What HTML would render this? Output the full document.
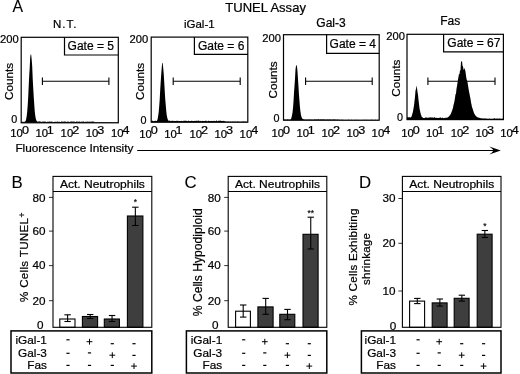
<!DOCTYPE html>
<html><head><meta charset="utf-8"><style>
html,body{margin:0;padding:0;background:#fff}
svg{display:block;will-change:transform;transform:translateZ(0)}
text{font-family:"Liberation Sans",sans-serif;fill:#000;stroke:#000;stroke-width:0.22px}
</style></head><body>
<svg width="520" height="374" viewBox="0 0 520 374">
<rect width="520" height="374" fill="#fff"/>
<text x="12.6" y="11.9" font-size="15.8" text-anchor="start" style="stroke-width:0.1px">A</text>
<text x="225.3" y="12.2" font-size="12.6" text-anchor="start" textLength="80.6" lengthAdjust="spacingAndGlyphs">TUNEL Assay</text>
<polygon fill="#000" points="21.2,122.8 21.2,121.93 21.7,121.98 22.2,121.79 22.7,121.7 23.2,121.74 23.7,121.97 24.2,121.48 24.7,121.88 25.2,121.4 25.7,120.86 26.2,118.95 26.7,115.93 27.2,111.86 27.7,105.31 28.2,97.23 28.7,86.12 29.2,75.67 29.7,67.92 30.2,57.36 30.7,54.32 31.2,54.74 31.7,59.68 32.2,66.22 32.7,78.4 33.2,87.63 33.7,96.24 34.2,103.53 34.7,110.69 35.2,115.32 35.7,118.23 36.2,119.89 36.7,120.95 37.2,121.57 37.7,121.73 38.2,121.41 38.7,121.59 39.2,121.57 39.7,121.37 40.2,121.84 40.7,121.59 41.2,121.73 41.7,121.95 42.2,121.52 42.7,121.87 43.2,121.45 43.7,121.73 44.2,121.45 44.7,121.46 45.2,121.76 45.7,121.45 46.2,121.93 46.7,121.88 47.2,121.71 47.7,121.86 48.2,121.75 48.7,121.66 49.2,121.57 49.7,121.62 50.2,121.99 50.7,121.52 51.2,121.5 51.7,121.77 52.2,121.61 52.7,121.99 53.2,121.92 53.7,122.0 54.2,121.93 54.7,121.79 55.2,121.45 55.7,121.93 56.2,121.8 56.7,121.95 57.2,121.37 57.7,121.71 58.2,121.96 58.7,121.86 59.2,121.92 59.7,121.4 60.2,121.93 60.7,122.01 61.2,121.38 61.7,121.57 62.2,121.79 62.7,121.52 63.2,121.52 63.7,121.88 64.2,121.38 64.7,121.5 65.2,121.54 65.7,121.69 66.2,122.01 66.7,121.85 67.2,121.57 67.7,121.73 68.2,121.38 68.7,121.79 69.2,121.88 69.7,121.9 70.2,121.44 70.7,121.71 71.2,121.5 71.7,121.59 72.2,121.51 72.7,121.71 73.2,121.51 73.7,121.5 74.2,121.77 74.7,121.41 75.2,121.92 75.7,121.93 76.2,121.5 76.7,121.48 77.2,121.6 77.7,121.67 78.2,122.02 78.7,121.6 79.2,121.41 79.7,121.45 80.2,121.89 80.7,121.84 81.2,121.64 81.7,121.75 82.2,121.43 82.7,121.73 83.2,121.43 83.7,121.42 84.2,121.68 84.7,122.02 85.2,121.91 85.7,121.5 86.2,121.72 86.7,121.66 87.2,121.69 87.7,121.51 88.2,121.66 88.7,121.85 89.2,121.69 89.7,121.53 90.2,121.74 90.7,121.7 91.2,121.57 91.7,121.68 92.2,121.41 92.7,121.45 93.2,121.86 93.7,121.41 94.2,121.94 94.7,121.74 95.2,122.38 95.7,122.25 96.2,122.18 96.7,122.24 97.2,122.41 97.7,122.16 98.2,122.16 98.7,122.3 99.2,122.2 99.7,122.32 100.2,122.35 100.7,122.35 101.2,122.44 101.7,122.32 102.2,122.35 102.7,122.3 103.2,122.15 103.7,122.16 104.2,122.37 104.7,122.22 105.2,122.41 105.7,122.18 106.2,122.37 106.7,122.17 107.2,122.24 107.7,122.43 108.2,122.32 108.7,122.17 109.2,122.21 109.7,122.19 110.2,122.19 110.7,122.35 111.2,122.17 111.7,122.41 112.2,122.38 112.7,122.4 113.2,122.39 113.7,122.36 114.2,122.36 114.7,122.4 115.2,122.44 115.7,122.45 116.2,122.28 116.7,122.31 117.2,122.42 117.7,122.32 118.2,122.2 118.3,122.8"/>
<rect x="21.2" y="37.3" width="97.1" height="85.5" fill="none" stroke="#000" stroke-width="1.2"/>
<path d="M64.5 37.3 V55 H118.3" fill="none" stroke="#000" stroke-width="1.2"/>
<text x="52.9" y="28.4" font-size="11.5" text-anchor="start" style="letter-spacing:1px">N.T.</text>
<text x="67.6" y="49.5" font-size="12" text-anchor="start" >Gate = 5</text>
<text x="18.6" y="42.8" font-size="11.2" text-anchor="end" >200</text>
<text x="17.2" y="123.3" font-size="10.8" text-anchor="end" >0</text>
<text x="12.7" y="81.4" font-size="11.7" text-anchor="middle" transform="rotate(-90 12.7 81.4)">Counts</text>
<line x1="42.4" y1="81.2" x2="108.9" y2="81.2" stroke="#000" stroke-width="1.1"/>
<line x1="42.4" y1="77.5" x2="42.4" y2="84.9" stroke="#000" stroke-width="1.1"/>
<line x1="108.9" y1="77.5" x2="108.9" y2="84.9" stroke="#000" stroke-width="1.1"/>
<text x="10.3" y="137.2" font-size="11.3" text-anchor="start" >10</text>
<text transform="translate(21.9 133.79999999999998) scale(1.18 1)" font-size="10.7">0</text>
<text x="35.45" y="137.2" font-size="11.3" text-anchor="start" >10</text>
<text transform="translate(46.75 133.79999999999998) scale(1.18 1)" font-size="10.7">1</text>
<text x="60.599999999999994" y="137.2" font-size="11.3" text-anchor="start" >10</text>
<text transform="translate(72.19999999999999 133.79999999999998) scale(1.18 1)" font-size="10.7">2</text>
<text x="85.74999999999999" y="137.2" font-size="11.3" text-anchor="start" >10</text>
<text transform="translate(97.34999999999998 133.79999999999998) scale(1.18 1)" font-size="10.7">3</text>
<text x="110.89999999999999" y="137.2" font-size="11.3" text-anchor="start" >10</text>
<text transform="translate(122.49999999999999 133.79999999999998) scale(1.18 1)" font-size="10.7">4</text>
<polygon fill="#000" points="151.2,122.2 151.2,120.89 151.7,120.52 152.2,120.64 152.7,120.79 153.2,121.02 153.7,121.19 154.2,120.71 154.7,121.16 155.2,120.63 155.7,120.77 156.2,121.1 156.7,120.93 157.2,120.36 157.7,118.71 158.2,115.68 158.7,112.02 159.2,106.3 159.7,99.62 160.2,90.12 160.7,81.96 161.2,74.55 161.7,68.03 162.2,62.86 162.7,63.2 163.2,67.99 163.7,73.56 164.2,81.49 164.7,90.4 165.2,98.75 165.7,104.43 166.2,110.6 166.7,115.09 167.2,117.53 167.7,119.31 168.2,120.39 168.7,120.64 169.2,120.65 169.7,120.59 170.2,120.75 170.7,121.27 171.2,121.01 171.7,120.64 172.2,120.8 172.7,120.76 173.2,121.29 173.7,120.71 174.2,120.87 174.7,121.24 175.2,121.09 175.7,121.08 176.2,121.13 176.7,120.53 177.2,120.99 177.7,120.76 178.2,120.81 178.7,121.23 179.2,121.09 179.7,121.05 180.2,121.28 180.7,121.08 181.2,120.75 181.7,121.06 182.2,120.93 182.7,121.2 183.2,121.13 183.7,120.56 184.2,120.93 184.7,120.53 185.2,121.08 185.7,120.55 186.2,120.84 186.7,120.88 187.2,121.19 187.7,120.89 188.2,120.74 188.7,120.59 189.2,121.27 189.7,120.91 190.2,121.05 190.7,121.02 191.2,120.63 191.7,120.7 192.2,121.2 192.7,120.73 193.2,121.06 193.7,120.98 194.2,120.83 194.7,120.96 195.2,121.25 195.7,120.64 196.2,120.56 196.7,121.08 197.2,121.14 197.7,120.54 198.2,120.66 198.7,120.58 199.2,120.86 199.7,121.25 200.2,120.94 200.7,120.79 201.2,121.25 201.7,121.19 202.2,121.02 202.7,120.71 203.2,121.09 203.7,121.06 204.2,120.98 204.7,121.16 205.2,120.58 205.7,121.12 206.2,120.51 206.7,121.18 207.2,121.22 207.7,121.22 208.2,121.09 208.7,120.6 209.2,120.97 209.7,120.88 210.2,121.03 210.7,121.07 211.2,121.19 211.7,120.8 212.2,121.12 212.7,121.1 213.2,120.94 213.7,120.63 214.2,121.27 214.7,120.74 215.2,120.92 215.7,121.29 216.2,120.57 216.7,120.62 217.2,121.1 217.7,121.17 218.2,120.76 218.7,120.73 219.2,120.69 219.7,120.86 220.2,120.68 220.7,120.57 221.2,121.05 221.7,121.09 222.2,120.75 222.7,121.24 223.2,120.84 223.7,121.12 224.2,121.28 224.7,120.93 225.2,121.55 225.7,121.61 226.2,121.69 226.7,121.53 227.2,121.77 227.7,121.54 228.2,121.69 228.7,121.45 229.2,121.77 229.7,121.63 230.2,121.71 230.7,121.51 231.2,121.71 231.7,121.67 232.2,121.7 232.7,121.51 233.2,121.44 233.7,121.71 234.2,121.63 234.7,121.44 235.2,121.64 235.7,121.43 236.2,121.76 236.7,121.64 237.2,121.46 237.7,121.42 238.2,121.66 238.7,121.44 239.2,121.77 239.7,121.64 240.2,121.66 240.7,121.78 241.2,121.65 241.7,121.74 242.2,121.71 242.7,121.48 243.2,121.62 243.7,121.61 244.2,121.45 244.7,121.65 245.2,121.77 245.7,121.49 246.2,121.77 246.7,121.76 247.2,121.69 247.7,121.46 247.8,122.2"/>
<rect x="151.2" y="37.1" width="96.60000000000002" height="85.1" fill="none" stroke="#000" stroke-width="1.2"/>
<path d="M194.4 37.1 V54.3 H247.8" fill="none" stroke="#000" stroke-width="1.2"/>
<text x="199.3" y="27.6" font-size="11.5" text-anchor="middle" >iGal-1</text>
<text x="198" y="49.5" font-size="12" text-anchor="start" >Gate = 6</text>
<text x="148.2" y="42.7" font-size="11.2" text-anchor="end" >200</text>
<text x="146.4" y="123.5" font-size="10.8" text-anchor="end" >0</text>
<text x="143.6" y="81.5" font-size="11.7" text-anchor="middle" transform="rotate(-90 143.6 81.5)">Counts</text>
<line x1="173.2" y1="81.2" x2="240.2" y2="81.2" stroke="#000" stroke-width="1.1"/>
<line x1="173.2" y1="77.5" x2="173.2" y2="84.9" stroke="#000" stroke-width="1.1"/>
<line x1="240.2" y1="77.5" x2="240.2" y2="84.9" stroke="#000" stroke-width="1.1"/>
<text x="139.2" y="137.6" font-size="11.3" text-anchor="start" >10</text>
<text transform="translate(150.79999999999998 134.2) scale(1.18 1)" font-size="10.7">0</text>
<text x="164.29999999999998" y="137.6" font-size="11.3" text-anchor="start" >10</text>
<text transform="translate(175.6 134.2) scale(1.18 1)" font-size="10.7">1</text>
<text x="189.39999999999998" y="137.6" font-size="11.3" text-anchor="start" >10</text>
<text transform="translate(200.99999999999997 134.2) scale(1.18 1)" font-size="10.7">2</text>
<text x="214.5" y="137.6" font-size="11.3" text-anchor="start" >10</text>
<text transform="translate(226.1 134.2) scale(1.18 1)" font-size="10.7">3</text>
<text x="239.6" y="137.6" font-size="11.3" text-anchor="start" >10</text>
<text transform="translate(251.2 134.2) scale(1.18 1)" font-size="10.7">4</text>
<polygon fill="#000" points="283.5,120.2 283.5,119.6 284.0,119.45 284.5,119.41 285.0,119.59 285.5,119.39 286.0,119.44 286.5,119.7 287.0,119.51 287.5,119.31 288.0,119.6 288.5,119.5 289.0,119.63 289.5,119.4 290.0,119.39 290.5,119.54 291.0,118.88 291.5,117.55 292.0,115.62 292.5,112.4 293.0,107.99 293.5,101.51 294.0,92.81 294.5,85.9 295.0,78.44 295.5,69.38 296.0,65.89 296.5,64.81 297.0,66.67 297.5,71.58 298.0,79.32 298.5,87.06 299.0,95.35 299.5,101.13 300.0,107.69 300.5,112.1 301.0,114.93 301.5,116.93 302.0,118.1 302.5,118.79 303.0,119.2 303.5,119.37 304.0,119.33 304.5,119.59 305.0,119.63 305.5,119.47 306.0,119.55 306.5,119.52 307.0,119.38 307.5,119.67 308.0,119.45 308.5,119.56 309.0,119.62 309.5,119.46 310.0,119.62 310.5,119.57 311.0,119.63 311.5,119.62 312.0,119.48 312.5,119.67 313.0,119.48 313.5,119.67 314.0,119.42 314.5,119.59 315.0,119.31 315.5,119.47 316.0,119.54 316.5,119.29 317.0,119.63 317.5,119.62 318.0,119.33 318.5,119.37 319.0,119.34 319.5,119.64 320.0,119.48 320.5,119.33 321.0,119.45 321.5,119.5 322.0,119.59 322.5,119.32 323.0,119.5 323.5,119.3 324.0,119.66 324.5,119.3 325.0,119.69 325.5,119.55 326.0,119.45 326.5,119.64 327.0,119.62 327.5,119.35 328.0,119.63 328.5,119.54 329.0,119.55 329.5,119.61 330.0,119.33 330.5,119.47 331.0,119.69 331.5,119.66 332.0,119.48 332.5,119.58 333.0,119.47 333.5,119.43 334.0,119.53 334.5,119.45 335.0,119.61 335.5,119.38 336.0,119.63 336.5,119.67 337.0,119.53 337.5,119.52 338.0,119.69 338.5,119.68 339.0,119.38 339.5,119.69 340.0,119.92 340.5,119.97 341.0,119.81 341.5,119.84 342.0,119.81 342.5,119.82 343.0,119.96 343.5,119.82 344.0,119.93 344.5,119.96 345.0,119.94 345.5,119.96 346.0,119.82 346.5,119.94 347.0,119.93 347.5,119.96 348.0,119.82 348.5,119.83 349.0,119.85 349.5,119.89 350.0,119.93 350.5,119.89 351.0,119.83 351.5,119.81 352.0,119.92 352.5,119.94 353.0,119.89 353.5,119.85 354.0,119.96 354.5,119.98 355.0,119.94 355.5,119.81 356.0,119.87 356.5,119.99 357.0,119.96 357.5,119.91 358.0,119.83 358.5,119.95 359.0,119.99 359.5,119.93 360.0,119.93 360.5,119.88 361.0,119.95 361.5,119.9 362.0,119.82 362.5,119.96 363.0,119.88 363.5,119.85 364.0,119.94 364.5,119.87 365.0,119.93 365.5,119.91 366.0,119.86 366.5,119.83 367.0,119.89 367.5,119.95 368.0,119.85 368.5,119.89 369.0,119.96 369.5,119.88 370.0,119.87 370.5,119.96 371.0,119.94 371.5,119.83 372.0,119.86 372.5,119.84 373.0,119.91 373.5,119.91 374.0,119.97 374.5,119.98 375.0,119.86 375.5,119.84 376.0,119.94 376.5,119.91 377.0,119.9 377.5,119.87 378.0,119.95 378.5,119.99 379.0,119.95 379.2,120.2"/>
<rect x="283.5" y="34.7" width="95.69999999999999" height="85.5" fill="none" stroke="#000" stroke-width="1.2"/>
<path d="M326.6 34.7 V53.3 H379.2" fill="none" stroke="#000" stroke-width="1.2"/>
<text x="331" y="26.5" font-size="12" text-anchor="middle" >Gal-3</text>
<text x="329.6" y="47.7" font-size="12" text-anchor="start" >Gate = 4</text>
<text x="281" y="41.5" font-size="11.2" text-anchor="end" >200</text>
<text x="279.6" y="121.6" font-size="10.8" text-anchor="end" >0</text>
<text x="276.7" y="80" font-size="11.7" text-anchor="middle" transform="rotate(-90 276.7 80)">Counts</text>
<line x1="305.6" y1="81.3" x2="372.2" y2="81.3" stroke="#000" stroke-width="1.1"/>
<line x1="305.6" y1="77.6" x2="305.6" y2="85.0" stroke="#000" stroke-width="1.1"/>
<line x1="372.2" y1="77.6" x2="372.2" y2="85.0" stroke="#000" stroke-width="1.1"/>
<text x="271.4" y="136.9" font-size="11.3" text-anchor="start" >10</text>
<text transform="translate(283.0 133.5) scale(1.18 1)" font-size="10.7">0</text>
<text x="296.45" y="136.9" font-size="11.3" text-anchor="start" >10</text>
<text transform="translate(307.75 133.5) scale(1.18 1)" font-size="10.7">1</text>
<text x="321.5" y="136.9" font-size="11.3" text-anchor="start" >10</text>
<text transform="translate(333.1 133.5) scale(1.18 1)" font-size="10.7">2</text>
<text x="346.54999999999995" y="136.9" font-size="11.3" text-anchor="start" >10</text>
<text transform="translate(358.15 133.5) scale(1.18 1)" font-size="10.7">3</text>
<text x="371.59999999999997" y="136.9" font-size="11.3" text-anchor="start" >10</text>
<text transform="translate(383.2 133.5) scale(1.18 1)" font-size="10.7">4</text>
<polygon fill="#000" points="407,119.6 407,117.81 407.5,117.11 408.0,117.03 408.5,117.17 409.0,117.83 409.5,117.11 410.0,117.09 410.5,117.85 411.0,117.21 411.5,116.47 412.0,115.05 412.5,113.29 413.0,111.54 413.5,108.3 414.0,105.44 414.5,101.12 415.0,96.76 415.5,90.56 416.0,89.13 416.5,85.46 417.0,88.04 417.5,92.07 418.0,94.81 418.5,99.87 419.0,104.08 419.5,108.31 420.0,110.81 420.5,113.0 421.0,114.85 421.5,116.14 422.0,116.92 422.5,117.3 423.0,117.94 423.5,118.0 424.0,118.05 424.5,117.97 425.0,118.01 425.5,117.57 426.0,117.03 426.5,118.08 427.0,117.32 427.5,118.07 428.0,117.72 428.5,117.44 429.0,117.71 429.5,117.51 430.0,117.33 430.5,117.18 431.0,117.82 431.5,117.26 432.0,117.69 432.5,117.39 433.0,117.27 433.5,118.15 434.0,117.07 434.5,117.55 435.0,117.21 435.5,117.95 436.0,118.05 436.5,117.87 437.0,117.7 437.5,117.93 438.0,117.94 438.5,118.04 439.0,117.64 439.5,117.78 440.0,117.64 440.5,117.2 441.0,117.75 441.5,118.2 442.0,117.84 442.5,117.41 443.0,118.13 443.5,118.03 444.0,118.19 444.5,118.08 445.0,117.78 445.5,118.0 446.0,117.4 446.5,117.8 447.0,117.64 447.5,117.43 448.0,117.16 448.5,116.82 449.0,116.47 449.5,115.83 450.0,115.09 450.5,114.59 451.0,113.53 451.5,112.06 452.0,111.06 452.5,109.34 453.0,107.64 453.5,105.07 454.0,103.24 454.5,101.09 455.0,97.81 455.5,94.31 456.0,93.77 456.5,88.86 457.0,85.95 457.5,82.71 458.0,79.47 458.5,76.66 459.0,73.9 459.5,74.17 460.0,70.21 460.5,70.62 461.0,61.64 461.5,61.54 462.0,61.09 462.5,65.66 463.0,66.43 463.5,69.25 464.0,70.02 464.5,67.82 465.0,69.4 465.5,71.65 466.0,75.59 466.5,78.99 467.0,80.16 467.5,82.18 468.0,85.27 468.5,88.5 469.0,91.39 469.5,93.84 470.0,96.41 470.5,98.66 471.0,102.31 471.5,104.39 472.0,107.28 472.5,108.26 473.0,110.0 473.5,111.47 474.0,113.02 474.5,114.1 475.0,114.82 475.5,115.62 476.0,116.21 476.5,116.6 477.0,116.98 477.5,117.3 478.0,117.52 478.5,117.69 479.0,117.48 479.5,117.98 480.0,118.08 480.5,118.17 481.0,118.25 481.5,118.32 482.0,118.37 482.5,118.43 483.0,118.48 483.5,118.5 484.0,118.32 484.5,118.62 485.0,118.4 485.5,118.51 486.0,118.45 486.5,118.55 487.0,118.75 487.5,118.76 488.0,118.47 488.5,118.77 489.0,118.82 489.5,118.39 490.0,118.41 490.5,118.77 491.0,118.81 491.5,118.81 492.0,118.8 492.5,118.83 493.0,118.5 493.5,118.75 494.0,118.3 494.5,118.36 495.0,118.31 495.5,118.82 496.0,118.79 496.5,118.56 497.0,118.47 497.5,118.53 498.0,118.53 498.5,118.78 499.0,118.47 499.5,118.39 500.0,118.35 500.5,118.79 501.0,118.68 501.5,118.63 502.0,118.41 502.5,118.67 503.0,118.33 503.4,119.6"/>
<rect x="407" y="34.3" width="96.39999999999998" height="85.3" fill="none" stroke="#000" stroke-width="1.2"/>
<path d="M443.6 34.3 V51.8 H503.4" fill="none" stroke="#000" stroke-width="1.2"/>
<text x="450.3" y="25" font-size="12" text-anchor="middle" >Fas</text>
<text x="447.3" y="47.2" font-size="12" text-anchor="start" >Gate = 67</text>
<text x="405" y="39.7" font-size="11.2" text-anchor="end" >200</text>
<text x="403" y="120.5" font-size="10.8" text-anchor="end" >0</text>
<text x="400" y="78.2" font-size="11.7" text-anchor="middle" transform="rotate(-90 400 78.2)">Counts</text>
<line x1="427.9" y1="81.2" x2="495" y2="81.2" stroke="#000" stroke-width="1.1"/>
<line x1="427.9" y1="77.5" x2="427.9" y2="84.9" stroke="#000" stroke-width="1.1"/>
<line x1="495" y1="77.5" x2="495" y2="84.9" stroke="#000" stroke-width="1.1"/>
<text x="401.2" y="137.2" font-size="11.3" text-anchor="start" >10</text>
<text transform="translate(412.8 133.79999999999998) scale(1.18 1)" font-size="10.7">0</text>
<text x="425.95" y="137.2" font-size="11.3" text-anchor="start" >10</text>
<text transform="translate(437.25 133.79999999999998) scale(1.18 1)" font-size="10.7">1</text>
<text x="450.7" y="137.2" font-size="11.3" text-anchor="start" >10</text>
<text transform="translate(462.3 133.79999999999998) scale(1.18 1)" font-size="10.7">2</text>
<text x="475.45" y="137.2" font-size="11.3" text-anchor="start" >10</text>
<text transform="translate(487.05 133.79999999999998) scale(1.18 1)" font-size="10.7">3</text>
<text x="500.2" y="137.2" font-size="11.3" text-anchor="start" >10</text>
<text transform="translate(511.8 133.79999999999998) scale(1.18 1)" font-size="10.7">4</text>
<text x="15.4" y="152.3" font-size="11.0" text-anchor="start" textLength="118" lengthAdjust="spacingAndGlyphs">Fluorescence Intensity</text>
<line x1="137.2" y1="150.5" x2="495" y2="150.5" stroke="#000" stroke-width="1.05"/>
<path d="M500.8 150.5 L489.3 146.4 Q492.6 148.6 493.4 150.5 Q492.6 152.4 489.3 154.6 Z" fill="#000"/>
<text x="11.4" y="187.7" font-size="16.8" text-anchor="start" style="stroke-width:0.1px">B</text>
<rect x="59.8" y="319" width="15.200000000000003" height="8.300000000000011" fill="#fff" stroke="#000" stroke-width="1.1"/>
<line x1="67.6" y1="314.8" x2="67.6" y2="321.5" stroke="#000" stroke-width="1.1"/>
<line x1="64.39999999999999" y1="314.8" x2="70.8" y2="314.8" stroke="#000" stroke-width="1.1"/>
<line x1="64.39999999999999" y1="321.5" x2="70.8" y2="321.5" stroke="#000" stroke-width="1.1"/>
<rect x="82.4" y="316.5" width="15.199999999999989" height="10.800000000000011" fill="#3e3e3e" stroke="#000" stroke-width="1.1"/>
<line x1="90.2" y1="314.5" x2="90.2" y2="318.5" stroke="#000" stroke-width="1.1"/>
<line x1="87.0" y1="314.5" x2="93.4" y2="314.5" stroke="#000" stroke-width="1.1"/>
<line x1="87.0" y1="318.5" x2="93.4" y2="318.5" stroke="#000" stroke-width="1.1"/>
<rect x="104.3" y="319" width="15.099999999999994" height="8.300000000000011" fill="#3e3e3e" stroke="#000" stroke-width="1.1"/>
<line x1="112.05" y1="315.5" x2="112.05" y2="321.5" stroke="#000" stroke-width="1.1"/>
<line x1="108.85" y1="315.5" x2="115.25" y2="315.5" stroke="#000" stroke-width="1.1"/>
<line x1="108.85" y1="321.5" x2="115.25" y2="321.5" stroke="#000" stroke-width="1.1"/>
<rect x="127.4" y="216" width="15.5" height="111.30000000000001" fill="#3e3e3e" stroke="#000" stroke-width="1.1"/>
<line x1="135.35000000000002" y1="207.2" x2="135.35000000000002" y2="225.5" stroke="#000" stroke-width="1.1"/>
<line x1="132.15000000000003" y1="207.2" x2="138.55" y2="207.2" stroke="#000" stroke-width="1.1"/>
<line x1="132.15000000000003" y1="225.5" x2="138.55" y2="225.5" stroke="#000" stroke-width="1.1"/>
<text x="135.35000000000002" y="205.4" font-size="8.5" text-anchor="middle" style="stroke-width:0.15px">*</text>
<rect x="53" y="176.4" width="98.80000000000001" height="150.9" fill="none" stroke="#000" stroke-width="1.1"/>
<line x1="53" y1="191.5" x2="151.8" y2="191.5" stroke="#000" stroke-width="1.1"/>
<text x="102.4" y="187.8" font-size="11.4" text-anchor="middle" textLength="85.0" lengthAdjust="spacingAndGlyphs">Act. Neutrophils</text>
<text x="45.5" y="201.5" font-size="11.7" text-anchor="end" >80</text>
<line x1="49" y1="197.4" x2="53" y2="197.4" stroke="#000" stroke-width="0.8"/>
<text x="45.5" y="235.0" font-size="11.7" text-anchor="end" >60</text>
<line x1="49" y1="231.1" x2="53" y2="231.1" stroke="#000" stroke-width="0.8"/>
<text x="45.5" y="269.09999999999997" font-size="11.7" text-anchor="end" >40</text>
<line x1="49" y1="265.6" x2="53" y2="265.6" stroke="#000" stroke-width="0.8"/>
<text x="45.5" y="304.7" font-size="11.7" text-anchor="end" >20</text>
<line x1="49" y1="300.7" x2="53" y2="300.7" stroke="#000" stroke-width="0.8"/>
<text x="43.5" y="329.0" font-size="11.7" text-anchor="end" >0</text>
<text x="27.8" y="260" font-size="11.6" text-anchor="middle" transform="rotate(-90 27.8 260)" textLength="84" lengthAdjust="spacing">% Cells TUNEL</text>
<text x="24.6" y="217.4" font-size="8.5" text-anchor="start" transform="rotate(-90 24.6 217.4)">+</text>
<rect x="11.0" y="330.9" width="140.8" height="42.10000000000002" fill="none" stroke="#000" stroke-width="1.5"/>
<text x="46.9" y="344.3" font-size="11.8" text-anchor="end" >iGal-1</text>
<line x1="66.4" y1="339.8" x2="69.6" y2="339.8" stroke="#000" stroke-width="1.2"/>
<line x1="86.6" y1="341.7" x2="92.4" y2="341.7" stroke="#000" stroke-width="1.0"/>
<line x1="89.5" y1="338.8" x2="89.5" y2="344.59999999999997" stroke="#000" stroke-width="1.0"/>
<line x1="110.7" y1="343.7" x2="113.89999999999999" y2="343.7" stroke="#000" stroke-width="1.2"/>
<line x1="132.4" y1="343.7" x2="135.6" y2="343.7" stroke="#000" stroke-width="1.2"/>
<text x="46.9" y="357.2" font-size="11.8" text-anchor="end" >Gal-3</text>
<line x1="66.4" y1="353.3" x2="69.6" y2="353.3" stroke="#000" stroke-width="1.2"/>
<line x1="87.9" y1="352.9" x2="91.1" y2="352.9" stroke="#000" stroke-width="1.2"/>
<line x1="109.39999999999999" y1="355.2" x2="115.2" y2="355.2" stroke="#000" stroke-width="1.0"/>
<line x1="112.3" y1="352.3" x2="112.3" y2="358.09999999999997" stroke="#000" stroke-width="1.0"/>
<line x1="132.4" y1="355.4" x2="135.6" y2="355.4" stroke="#000" stroke-width="1.2"/>
<text x="46.9" y="368.9" font-size="11.8" text-anchor="end" >Fas</text>
<line x1="66.4" y1="365.4" x2="69.6" y2="365.4" stroke="#000" stroke-width="1.2"/>
<line x1="87.9" y1="365.4" x2="91.1" y2="365.4" stroke="#000" stroke-width="1.2"/>
<line x1="110.7" y1="365.4" x2="113.89999999999999" y2="365.4" stroke="#000" stroke-width="1.2"/>
<line x1="131.1" y1="366.1" x2="136.9" y2="366.1" stroke="#000" stroke-width="1.0"/>
<line x1="134" y1="363.20000000000005" x2="134" y2="369.0" stroke="#000" stroke-width="1.0"/>
<text x="184.5" y="187.7" font-size="16.8" text-anchor="start" style="stroke-width:0.1px">C</text>
<rect x="235.6" y="311.2" width="14.800000000000011" height="16.100000000000023" fill="#fff" stroke="#000" stroke-width="1.1"/>
<line x1="243.2" y1="305" x2="243.2" y2="317.1" stroke="#000" stroke-width="1.1"/>
<line x1="240.0" y1="305" x2="246.39999999999998" y2="305" stroke="#000" stroke-width="1.1"/>
<line x1="240.0" y1="317.1" x2="246.39999999999998" y2="317.1" stroke="#000" stroke-width="1.1"/>
<rect x="257.9" y="306.9" width="15.200000000000045" height="20.400000000000034" fill="#3e3e3e" stroke="#000" stroke-width="1.1"/>
<line x1="265.7" y1="298.4" x2="265.7" y2="314.3" stroke="#000" stroke-width="1.1"/>
<line x1="262.5" y1="298.4" x2="268.9" y2="298.4" stroke="#000" stroke-width="1.1"/>
<line x1="262.5" y1="314.3" x2="268.9" y2="314.3" stroke="#000" stroke-width="1.1"/>
<rect x="279.8" y="314.3" width="15.0" height="13.0" fill="#3e3e3e" stroke="#000" stroke-width="1.1"/>
<line x1="287.5" y1="309.4" x2="287.5" y2="319.7" stroke="#000" stroke-width="1.1"/>
<line x1="284.3" y1="309.4" x2="290.7" y2="309.4" stroke="#000" stroke-width="1.1"/>
<line x1="284.3" y1="319.7" x2="290.7" y2="319.7" stroke="#000" stroke-width="1.1"/>
<rect x="303" y="234.3" width="15.100000000000023" height="93.0" fill="#3e3e3e" stroke="#000" stroke-width="1.1"/>
<line x1="310.75" y1="217.2" x2="310.75" y2="249" stroke="#000" stroke-width="1.1"/>
<line x1="307.55" y1="217.2" x2="313.95" y2="217.2" stroke="#000" stroke-width="1.1"/>
<line x1="307.55" y1="249" x2="313.95" y2="249" stroke="#000" stroke-width="1.1"/>
<text x="310.75" y="215.5" font-size="8.5" text-anchor="middle" style="stroke-width:0.15px">**</text>
<rect x="228.2" y="176.4" width="98.60000000000002" height="150.9" fill="none" stroke="#000" stroke-width="1.1"/>
<line x1="228.2" y1="191.5" x2="326.8" y2="191.5" stroke="#000" stroke-width="1.1"/>
<text x="277.5" y="187.8" font-size="11.4" text-anchor="middle" textLength="85.0" lengthAdjust="spacingAndGlyphs">Act. Neutrophils</text>
<text x="220.7" y="201.5" font-size="11.7" text-anchor="end" >80</text>
<line x1="224.2" y1="197.4" x2="228.2" y2="197.4" stroke="#000" stroke-width="0.8"/>
<text x="220.7" y="235.0" font-size="11.7" text-anchor="end" >60</text>
<line x1="224.2" y1="231.1" x2="228.2" y2="231.1" stroke="#000" stroke-width="0.8"/>
<text x="220.7" y="269.09999999999997" font-size="11.7" text-anchor="end" >40</text>
<line x1="224.2" y1="265.6" x2="228.2" y2="265.6" stroke="#000" stroke-width="0.8"/>
<text x="220.7" y="304.7" font-size="11.7" text-anchor="end" >20</text>
<line x1="224.2" y1="300.7" x2="228.2" y2="300.7" stroke="#000" stroke-width="0.8"/>
<text x="218.39999999999998" y="328.9" font-size="11.7" text-anchor="end" >0</text>
<text x="201.8" y="262.3" font-size="12.15" text-anchor="middle" transform="rotate(-90 201.8 262.3)">% Cells Hypodiploid</text>
<rect x="186.4" y="330.9" width="140.4" height="42.10000000000002" fill="none" stroke="#000" stroke-width="1.5"/>
<text x="222.2" y="344.3" font-size="11.8" text-anchor="end" >iGal-1</text>
<line x1="242.1" y1="339.8" x2="245.29999999999998" y2="339.8" stroke="#000" stroke-width="1.2"/>
<line x1="261.90000000000003" y1="341.7" x2="267.7" y2="341.7" stroke="#000" stroke-width="1.0"/>
<line x1="264.8" y1="338.8" x2="264.8" y2="344.59999999999997" stroke="#000" stroke-width="1.0"/>
<line x1="285.79999999999995" y1="343.7" x2="289.0" y2="343.7" stroke="#000" stroke-width="1.2"/>
<line x1="307.7" y1="343.7" x2="310.90000000000003" y2="343.7" stroke="#000" stroke-width="1.2"/>
<text x="222.2" y="357.2" font-size="11.8" text-anchor="end" >Gal-3</text>
<line x1="242.1" y1="353.3" x2="245.29999999999998" y2="353.3" stroke="#000" stroke-width="1.2"/>
<line x1="263.2" y1="352.9" x2="266.40000000000003" y2="352.9" stroke="#000" stroke-width="1.2"/>
<line x1="284.5" y1="355.2" x2="290.29999999999995" y2="355.2" stroke="#000" stroke-width="1.0"/>
<line x1="287.4" y1="352.3" x2="287.4" y2="358.09999999999997" stroke="#000" stroke-width="1.0"/>
<line x1="307.7" y1="355.4" x2="310.90000000000003" y2="355.4" stroke="#000" stroke-width="1.2"/>
<text x="222.2" y="368.9" font-size="11.8" text-anchor="end" >Fas</text>
<line x1="242.1" y1="365.4" x2="245.29999999999998" y2="365.4" stroke="#000" stroke-width="1.2"/>
<line x1="263.2" y1="365.4" x2="266.40000000000003" y2="365.4" stroke="#000" stroke-width="1.2"/>
<line x1="285.79999999999995" y1="365.4" x2="289.0" y2="365.4" stroke="#000" stroke-width="1.2"/>
<line x1="306.40000000000003" y1="366.1" x2="312.2" y2="366.1" stroke="#000" stroke-width="1.0"/>
<line x1="309.3" y1="363.20000000000005" x2="309.3" y2="369.0" stroke="#000" stroke-width="1.0"/>
<text x="359.0" y="187.7" font-size="16.8" text-anchor="start" style="stroke-width:0.1px">D</text>
<rect x="409.6" y="301.1" width="15.0" height="26.19999999999999" fill="#fff" stroke="#000" stroke-width="1.1"/>
<line x1="417.3" y1="298.4" x2="417.3" y2="303.6" stroke="#000" stroke-width="1.1"/>
<line x1="414.1" y1="298.4" x2="420.5" y2="298.4" stroke="#000" stroke-width="1.1"/>
<line x1="414.1" y1="303.6" x2="420.5" y2="303.6" stroke="#000" stroke-width="1.1"/>
<rect x="432.2" y="302.9" width="14.900000000000034" height="24.400000000000034" fill="#3e3e3e" stroke="#000" stroke-width="1.1"/>
<line x1="439.85" y1="299" x2="439.85" y2="306.1" stroke="#000" stroke-width="1.1"/>
<line x1="436.65000000000003" y1="299" x2="443.05" y2="299" stroke="#000" stroke-width="1.1"/>
<line x1="436.65000000000003" y1="306.1" x2="443.05" y2="306.1" stroke="#000" stroke-width="1.1"/>
<rect x="454.2" y="298.3" width="14.900000000000034" height="29.0" fill="#3e3e3e" stroke="#000" stroke-width="1.1"/>
<line x1="461.85" y1="295.2" x2="461.85" y2="301.1" stroke="#000" stroke-width="1.1"/>
<line x1="458.65000000000003" y1="295.2" x2="465.05" y2="295.2" stroke="#000" stroke-width="1.1"/>
<line x1="458.65000000000003" y1="301.1" x2="465.05" y2="301.1" stroke="#000" stroke-width="1.1"/>
<rect x="477.2" y="234.2" width="14.900000000000034" height="93.10000000000002" fill="#3e3e3e" stroke="#000" stroke-width="1.1"/>
<line x1="484.85" y1="230.5" x2="484.85" y2="237.5" stroke="#000" stroke-width="1.1"/>
<line x1="481.65000000000003" y1="230.5" x2="488.05" y2="230.5" stroke="#000" stroke-width="1.1"/>
<line x1="481.65000000000003" y1="237.5" x2="488.05" y2="237.5" stroke="#000" stroke-width="1.1"/>
<text x="484.85" y="228.5" font-size="8.5" text-anchor="middle" style="stroke-width:0.15px">*</text>
<rect x="402.4" y="176.4" width="98.60000000000002" height="150.9" fill="none" stroke="#000" stroke-width="1.1"/>
<line x1="402.4" y1="191.5" x2="501" y2="191.5" stroke="#000" stroke-width="1.1"/>
<text x="451.7" y="187.8" font-size="11.4" text-anchor="middle" textLength="85.0" lengthAdjust="spacingAndGlyphs">Act. Neutrophils</text>
<text x="395.4" y="202.2" font-size="11.7" text-anchor="end" >30</text>
<line x1="398.4" y1="198.5" x2="402.4" y2="198.5" stroke="#000" stroke-width="0.8"/>
<text x="395.4" y="247.0" font-size="11.7" text-anchor="end" >20</text>
<line x1="398.4" y1="243.3" x2="402.4" y2="243.3" stroke="#000" stroke-width="0.8"/>
<text x="395.4" y="294.7" font-size="11.7" text-anchor="end" >10</text>
<line x1="398.4" y1="291.0" x2="402.4" y2="291.0" stroke="#000" stroke-width="0.8"/>
<text x="396.29999999999995" y="329.5" font-size="11.7" text-anchor="end" >0</text>
<text x="356.9" y="257" font-size="11.6" text-anchor="middle" transform="rotate(-90 356.9 257)" textLength="96.8" lengthAdjust="spacing">% Cells Exhibiting</text>
<text x="370.0" y="259" font-size="11.6" text-anchor="middle" transform="rotate(-90 370.0 259)" textLength="51.8" lengthAdjust="spacing">shrinkage</text>
<rect x="361.4" y="330.9" width="139.60000000000002" height="42.10000000000002" fill="none" stroke="#000" stroke-width="1.5"/>
<text x="396" y="344.3" font-size="11.8" text-anchor="end" >iGal-1</text>
<line x1="416.5" y1="339.8" x2="419.70000000000005" y2="339.8" stroke="#000" stroke-width="1.2"/>
<line x1="436.3" y1="341.7" x2="442.09999999999997" y2="341.7" stroke="#000" stroke-width="1.0"/>
<line x1="439.2" y1="338.8" x2="439.2" y2="344.59999999999997" stroke="#000" stroke-width="1.0"/>
<line x1="460.09999999999997" y1="343.7" x2="463.3" y2="343.7" stroke="#000" stroke-width="1.2"/>
<line x1="482.0" y1="343.7" x2="485.20000000000005" y2="343.7" stroke="#000" stroke-width="1.2"/>
<text x="396" y="357.2" font-size="11.8" text-anchor="end" >Gal-3</text>
<line x1="416.5" y1="353.3" x2="419.70000000000005" y2="353.3" stroke="#000" stroke-width="1.2"/>
<line x1="437.59999999999997" y1="352.9" x2="440.8" y2="352.9" stroke="#000" stroke-width="1.2"/>
<line x1="458.8" y1="355.2" x2="464.59999999999997" y2="355.2" stroke="#000" stroke-width="1.0"/>
<line x1="461.7" y1="352.3" x2="461.7" y2="358.09999999999997" stroke="#000" stroke-width="1.0"/>
<line x1="482.0" y1="355.4" x2="485.20000000000005" y2="355.4" stroke="#000" stroke-width="1.2"/>
<text x="396" y="368.9" font-size="11.8" text-anchor="end" >Fas</text>
<line x1="416.5" y1="365.4" x2="419.70000000000005" y2="365.4" stroke="#000" stroke-width="1.2"/>
<line x1="437.59999999999997" y1="365.4" x2="440.8" y2="365.4" stroke="#000" stroke-width="1.2"/>
<line x1="460.09999999999997" y1="365.4" x2="463.3" y2="365.4" stroke="#000" stroke-width="1.2"/>
<line x1="480.70000000000005" y1="366.1" x2="486.5" y2="366.1" stroke="#000" stroke-width="1.0"/>
<line x1="483.6" y1="363.20000000000005" x2="483.6" y2="369.0" stroke="#000" stroke-width="1.0"/>
</svg></body></html>
